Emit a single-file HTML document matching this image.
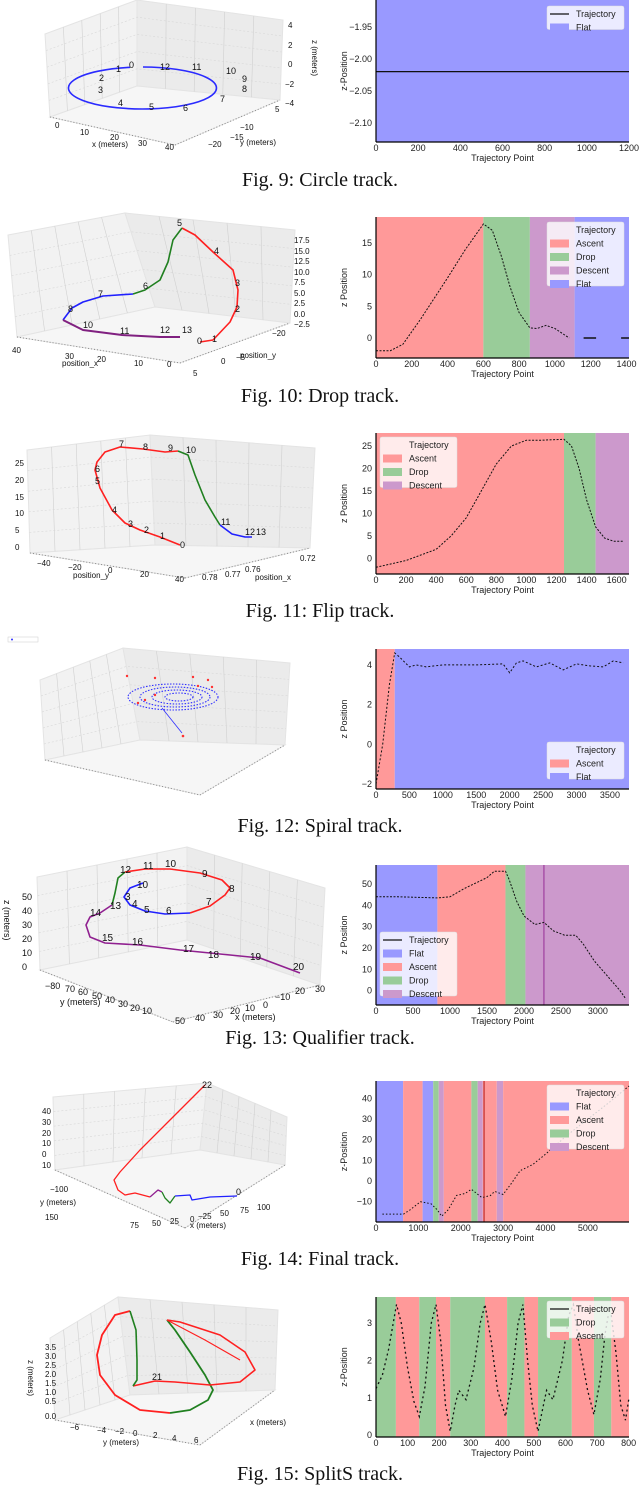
<!DOCTYPE html>
<html><head><meta charset="utf-8"><style>
html,body{margin:0;padding:0;background:#fff;}
svg{display:block;font-family:"Liberation Sans",sans-serif;}
.cap{font-family:"Liberation Serif",serif;font-size:20px;fill:#111;}
.tk{font-size:9px;fill:#222;}
.sm{font-size:8px;fill:#333;}
</style></head><body>
<svg id="pg" width="640" height="1487" viewBox="0 0 640 1487">
<g id="left"></g>
<g id="right"></g>
<g>
<text class="cap" x="320" y="186" text-anchor="middle">Fig. 9: Circle track.</text>
<text class="cap" x="320" y="402" text-anchor="middle">Fig. 10: Drop track.</text>
<text class="cap" x="320" y="617" text-anchor="middle">Fig. 11: Flip track.</text>
<text class="cap" x="320" y="832" text-anchor="middle">Fig. 12: Spiral track.</text>
<text class="cap" x="320" y="1044" text-anchor="middle">Fig. 13: Qualifier track.</text>
<text class="cap" x="320" y="1265" text-anchor="middle">Fig. 14: Final track.</text>
<text class="cap" x="320" y="1480" text-anchor="middle">Fig. 15: SplitS track.</text>
</g>
</svg>
<script>
// ---------- chart data ----------
const fig9_xTicks=[0,200,400,600,800,1000,1200];
const fig9_yTicks=[-1.95,-2.00,-2.05,-2.10];
const fig9_regStart=[0];const fig9_regEnd=[1200];const fig9_regKind=["Flat"];
const fig9_zX=[0,1200];const fig9_zY=[-2.02,-2.02];

const fig10_xTicks=[0,200,400,600,800,1000,1200,1400];
const fig10_yTicks=[0,5,10,15];
const fig10_regStart=[0,600,860,1110];const fig10_regEnd=[600,860,1110,1414];
const fig10_regKind=["Ascent","Drop","Descent","Flat"];
const fig10_zX=[0,80,150,250,400,500,600,650,700,750,800,860,900,950,1000,1080];
const fig10_zY=[-2,-2,-1,3,9.5,14,18,17,13,8,4,1.6,1.5,2,1.5,0];
const fig10_z2X=[1160,1230];const fig10_z2Y=[0,0];
const fig10_z3X=[1370,1414];const fig10_z3Y=[0,0];

const fig11_xTicks=[0,200,400,600,800,1000,1200,1400,1600];
const fig11_yTicks=[0,5,10,15,20,25];
const fig11_regStart=[0,1250,1460];const fig11_regEnd=[1250,1460,1682];
const fig11_regKind=["Ascent","Drop","Descent"];
const fig11_zX=[0,200,400,500,600,700,800,900,1000,1100,1250,1300,1350,1400,1460,1520,1580,1650];
const fig11_zY=[-2,-0.5,2,5,9,15,21,25,26.3,26.3,26.5,25,20,13,7,4.5,3.8,3.8];

const fig12_xTicks=[0,500,1000,1500,2000,2500,3000,3500];
const fig12_yTicks=[-2,0,2,4];
const fig12_regStart=[0,280];const fig12_regEnd=[280,3785];
const fig12_regKind=["Ascent","Flat"];
const fig12_zX=[0,100,200,280,350,500,600,750,1000,1500,1900,2000,2100,2200,2400,2600,2800,3000,3200,3400,3550,3700];
const fig12_zY=[-2,0,3,4.6,4.4,3.9,4.0,3.9,4,4,4.05,3.6,4.1,4.2,3.9,4.1,3.75,4.05,3.95,3.9,4.2,4.1];

const fig13_xTicks=[0,500,1000,1500,2000,2500,3000];
const fig13_yTicks=[0,10,20,30,40,50];
const fig13_regStart=[0,830,1750,2020];const fig13_regEnd=[830,1750,2020,3420];
const fig13_regKind=["Flat","Ascent","Drop","Descent"];
const fig13_zX=[0,300,830,1000,1200,1500,1600,1750,1800,1900,2000,2150,2270,2400,2550,2700,2800,2950,3100,3300,3380];
const fig13_zY=[44,44,43.5,44,48,53,56,56,52,42,35,31,32,28,26,26,22,14,8,0,-4];

const fig14_xTicks=[0,1000,2000,3000,4000,5000];
const fig14_yTicks=[-10,0,10,20,30,40];
const fig14_regStart=[0,640,1100,1350,1480,1600,2250,2400,2520,2850,3000];
const fig14_regEnd=[640,1100,1350,1480,1600,2250,2400,2520,2850,3000,5970];
const fig14_regKind=["Flat","Ascent","Flat","Drop","Descent","Ascent","Drop","Descent","Ascent","Descent","Ascent"];
const fig14_zX=[150,500,650,800,1050,1300,1450,1550,1700,1900,2100,2250,2500,2700,2800,3000,3200,3400,3700,4000,4500,5000,5500,5970];
const fig14_zY=[-16,-16,-16,-14,-10,-11,-14,-17,-14,-7,-6,-4,-8,-7,-5,-6.5,-1,5,8,13,22,30,38,46];

const fig15_xTicks=[0,100,200,300,400,500,600,700,800];
const fig15_yTicks=[0,1,2,3];
const fig15_regStart=[0,63,137,190,235,345,415,470,513,620,690,745];
const fig15_regEnd=[63,137,190,235,345,415,470,513,620,690,745,801];
const fig15_regKind=["Drop","Ascent","Drop","Ascent","Drop","Ascent","Drop","Ascent","Drop","Ascent","Drop","Ascent"];
const fig15_zX=[0,20,40,65,80,100,120,137,155,175,190,205,220,235,250,262,285,310,330,345,365,385,410,430,450,465,480,495,513,530,540,560,590,610,625,640,670,690,710,725,735,745,760,775,790,801];
const fig15_zY=[1.25,1.6,2.3,3.5,3.0,1.8,0.9,0.5,1.3,3.0,3.5,2.5,0.8,0.1,0.8,1.2,0.95,1.8,3.0,3.5,2.5,1.2,0.5,1.5,3.0,3.5,2.0,0.8,0.1,0.8,1.2,0.95,2.0,3.2,3.5,2.6,1.2,0.55,1.5,2.7,3.2,3.2,2.2,0.8,0.4,1.0];

const COL={Ascent:"#ff9999",Drop:"#99cc99",Descent:"#cc99cc",Flat:"#9999ff"};
const NS="http://www.w3.org/2000/svg";
function mk(parent,tag,attrs,text){const e=document.createElementNS(NS,tag);for(const k in attrs)e.setAttribute(k,attrs[k]);if(text!==undefined)e.textContent=text;parent.appendChild(e);return e;}

function chart(id,box,xd,yd,xTicks,yTicks,rs,re,rk,lines,ylabel,legend,extraV,fmt){
  const R=document.getElementById('right');
  const g=mk(R,'g',{});
  
  
  const [x0,y0,x1,y1]=box;
  const sx=v=>x0+(v-xd[0])/(xd[1]-xd[0])*(x1-x0);
  const sy=v=>y1-(v-yd[0])/(yd[1]-yd[0])*(y1-y0);
  for(let i=0;i<rs.length;i++){
    const r=mk(g,'rect',{x:sx(rs[i]),y:y0,width:sx(re[i])-sx(rs[i]),height:y1-y0,fill:COL[rk[i]]});
    
    
  }
  if(extraV){for(const v of extraV){const l=mk(g,'line',{x1:sx(v.x),x2:sx(v.x),y1:y0,y2:y1,stroke:v.c,'stroke-width':1.2});
    
    }}
  for(const ln of lines){
    const pts=ln.x.map((v,i)=>sx(v).toFixed(1)+','+sy(ln.y[i]).toFixed(1)).join(' ');
    const p=mk(g,'polyline',{points:pts,fill:'none',stroke:'#111','stroke-width':ln.w||1,'stroke-dasharray':ln.d||'none'});
    
    
  }
  mk(g,'line',{x1:x0,x2:x0,y1:y0,y2:y1,stroke:'#000','stroke-width':1.2});
  mk(g,'line',{x1:x0,x2:x1,y1:y1,y2:y1,stroke:'#000','stroke-width':1.2});
  for(const t of xTicks){const tx=mk(g,'text',{x:sx(t),y:y1+9,'text-anchor':'middle',class:'tk'},String(t));
    
    }
  for(const t of yTicks){const tx=mk(g,'text',{x:x0-4,y:sy(t)+3,'text-anchor':'end',class:'tk'},fmt?fmt(t):String(t).replace('-','\u2212'));
    
    }
  const xl=mk(g,'text',{x:(x0+x1)/2,y:y1+19,'text-anchor':'middle',class:'tk'},'Trajectory Point');
  
  
  const yl=mk(g,'text',{x:0,y:0,'text-anchor':'middle',class:'tk',transform:`translate(${x0-29},${(y0+y1)/2}) rotate(-90)`},ylabel);
  
  
  const [lx,ly,items,solid]=legend;
  const lg=mk(g,'g',{});
  
  
  const h=8+items.length*13.5+2;
  mk(lg,'rect',{x:lx,y:ly,width:77,height:h,fill:'#fff','fill-opacity':0.8,stroke:'#ddd','stroke-width':0.5,rx:2});
  const e0=mk(lg,'g',{});
  
  
  if(solid)mk(e0,'line',{x1:lx+3,x2:lx+22,y1:ly+8,y2:ly+8,stroke:'#111','stroke-width':1.2});
  mk(e0,'text',{x:lx+29,y:ly+11,class:'tk'},'Trajectory');
  items.forEach((k,i)=>{const yy=ly+8+(i+1)*13.5;
    const e=mk(lg,'g',{});
    
    
    mk(e,'rect',{x:lx+3,y:yy-4,width:19,height:8,fill:COL[k]});
    mk(e,'text',{x:lx+29,y:yy+3,class:'tk'},k);});
}
chart('chart-fig9',[376,0,629,142],[0,1200],[-2.13,-1.908],fig9_xTicks,fig9_yTicks,fig9_regStart,fig9_regEnd,fig9_regKind,
  [{x:fig9_zX,y:fig9_zY,w:1.2}],'z-Position',[547,6,["Flat"],true],null,t=>t.toFixed(2).replace('-','\u2212'));
chart('chart-fig10',[376,217,629,358],[0,1414],[-3.15,19.1],fig10_xTicks,fig10_yTicks,fig10_regStart,fig10_regEnd,fig10_regKind,
  [{x:fig10_zX,y:fig10_zY,d:'2,1.5'},{x:fig10_z2X,y:fig10_z2Y,w:1.5},{x:fig10_z3X,y:fig10_z3Y,w:1.5}],'z Position',[547,222,["Ascent","Drop","Descent","Flat"],false]);
chart('chart-fig11',[376,433,629,574],[0,1682],[-3.5,27.9],fig11_xTicks,fig11_yTicks,fig11_regStart,fig11_regEnd,fig11_regKind,
  [{x:fig11_zX,y:fig11_zY,d:'2,1.5'}],'z Position',[380,437,["Ascent","Drop","Descent"],false]);
chart('chart-fig12',[376,649,629,789],[0,3785],[-2.25,4.8],fig12_xTicks,fig12_yTicks,fig12_regStart,fig12_regEnd,fig12_regKind,
  [{x:fig12_zX,y:fig12_zY,d:'2,2'}],'z Position',[547,742,["Ascent","Flat"],false]);
chart('chart-fig13',[376,865,629,1005],[0,3420],[-6.7,58.9],fig13_xTicks,fig13_yTicks,fig13_regStart,fig13_regEnd,fig13_regKind,
  [{x:fig13_zX,y:fig13_zY,d:'2,1.5'}],'z Position',[380,932,["Flat","Ascent","Drop","Descent"],true],[{x:2270,c:'#a040a0'}]);
chart('chart-fig14',[376,1081,629,1222],[0,5970],[-19.8,48.4],fig14_xTicks,fig14_yTicks,fig14_regStart,fig14_regEnd,fig14_regKind,
  [{x:fig14_zX,y:fig14_zY,d:'1.5,2'}],'z-Position',[547,1085,["Flat","Ascent","Drop","Descent"],false],[{x:2550,c:'#c03030'}]);
chart('chart-fig15',[376,1297,629,1437],[0,801],[-0.05,3.7],fig15_xTicks,fig15_yTicks,fig15_regStart,fig15_regEnd,fig15_regKind,
  [{x:fig15_zX,y:fig15_zY,d:'2,3',w:1.3}],'z-Position',[547,1301,["Drop","Ascent"],true]);

// ---------- 3D plots (approximate projections) ----------
const L=document.getElementById('left');
function panes(name,tl,bk,tr,bl,bb,fr,br){
  const g=mk(L,'g',{});
  
  
  mk(g,'polygon',{points:[tl,bk,bb,bl].map(p=>p.join(',')).join(' '),fill:'#f2f2f2',stroke:'#e4e4e4'});
  mk(g,'polygon',{points:[bk,tr,br,bb].map(p=>p.join(',')).join(' '),fill:'#ebebeb',stroke:'#e4e4e4'});
  mk(g,'polygon',{points:[bl,bb,br,fr].map(p=>p.join(',')).join(' '),fill:'#f6f6f6',stroke:'#e4e4e4'});
  for(let i=1;i<5;i++){const f=i/5;
    const a=[tl[0]+(bl[0]-tl[0])*f,tl[1]+(bl[1]-tl[1])*f],b=[bk[0]+(bb[0]-bk[0])*f,bk[1]+(bb[1]-bk[1])*f],c=[tr[0]+(br[0]-tr[0])*f,tr[1]+(br[1]-tr[1])*f];
    mk(g,'polyline',{points:[a,b,c].map(p=>p.join(',')).join(' '),fill:'none',stroke:'#d8d8d8','stroke-dasharray':'2,2','stroke-width':0.6});
    const u=[tl[0]+(bk[0]-tl[0])*f,tl[1]+(bk[1]-tl[1])*f],v=[bl[0]+(bb[0]-bl[0])*f,bl[1]+(bb[1]-bl[1])*f];
    mk(g,'line',{x1:u[0],y1:u[1],x2:v[0],y2:v[1],stroke:'#d0d0d0','stroke-width':0.6});
    const p=[bk[0]+(tr[0]-bk[0])*f,bk[1]+(tr[1]-bk[1])*f],q=[bb[0]+(br[0]-bb[0])*f,bb[1]+(br[1]-bb[1])*f];
    mk(g,'line',{x1:p[0],y1:p[1],x2:q[0],y2:q[1],stroke:'#d0d0d0','stroke-width':0.6});}
  mk(g,'line',{x1:bl[0],y1:bl[1],x2:fr[0],y2:fr[1],stroke:'#888','stroke-dasharray':'1,2'});
  mk(g,'line',{x1:fr[0],y1:fr[1],x2:br[0],y2:br[1],stroke:'#888','stroke-dasharray':'1,2'});
}
function curve(name,pts,color,w){const p=mk(L,'polyline',{points:pts.map(a=>a.join(',')).join(' '),fill:'none',stroke:color,'stroke-width':w||1.6,'stroke-linejoin':'round'});
  
  }
function labels(arr,size){for(const [t,x,y,rot] of arr){const at={x:x,y:y,'font-size':size||9,fill:'#111'};if(rot)at.transform=`rotate(${rot},${x},${y})`;const e=mk(L,'text',at,t);
  
  }}

// Fig 9
panes('3d-panes-fig9',[45,34],[137,0],[283,20],[50,117],[137,86],[175,145],[280,100]);
{const e=mk(L,'path',{d:'M143,67 A74,21 0 1 1 130,67.3',fill:'none',stroke:'#2a2aff','stroke-width':1.6});
 
 }
labels([['0',129,68],['1',116,72],['2',99,81],['3',98,93],['4',118,106],['5',149,110],['6',183,111],['7',220,102],['8',242,92],['9',242,82],['10',226,74],['11',192,70],['12',160,70]]);
labels([['0',55,128],['10',80,135],['20',110,140],['30',138,146],['40',165,150],['x (meters)',92,147],['4',288,28],['2',288,48],['0',288,67],['−2',285,87],['−4',285,106],['z (meters)',312,40,90]],8);
labels([['−20',208,147],['−15',230,140],['−10',240,130],['5',275,112],['y (meters)',240,145]],8);

// Fig 10
panes('3d-panes-fig10',[8,235],[125,213],[295,230],[17,337],[155,307],[180,363],[290,323]);
curve('segment-ascent-fig10',[[200,342],[213,340],[230,322],[237,307],[238,290],[233,270],[213,252],[195,235],[182,228]],'#ff2020');
curve('segment-drop-fig10',[[182,228],[173,240],[168,262],[160,280],[145,290],[133,294]],'#208020');
curve('segment-flat-fig10',[[133,294],[103,296],[83,302],[72,308],[63,320]],'#2020ff');
curve('segment-descent-fig10',[[63,320],[83,330],[122,335],[160,337],[180,337]],'#802080',2);
labels([['5',177,226],['4',214,254],['3',235,286],['2',235,312],['1',212,342],['0',197,344],['6',143,289],['7',98,297],['8',68,312],['10',83,328],['11',120,334],['12',160,333],['13',182,333]]);
labels([['40',12,353],['30',65,359],['20',97,362],['10',134,366],['0',167,367],['position_x',62,366],['5',193,376],['0',221,364],['−5',236,360],['position_y',240,358],['−20',272,336],['17.5',294,243],['15.0',294,254],['12.5',294,264],['10.0',294,275],['7.5',294,285],['5.0',294,296],['2.5',294,306],['0.0',294,317],['−2.5',294,327]],8);

// Fig 11
panes('3d-panes-fig11',[27,450],[150,435],[315,448],[30,553],[155,545],[185,578],[310,548]);
curve('segment-ascent-fig11',[[180,545],[160,537],[140,530],[125,523],[112,510],[100,488],[95,470],[97,462],[105,452],[120,447],[143,449],[165,452],[178,451]],'#ff2020');
curve('segment-drop-fig11',[[178,451],[188,455],[195,475],[205,500],[215,517],[220,525]],'#208020');
curve('segment-flat-fig11',[[220,525],[232,534],[245,537],[252,537]],'#2020ff');
labels([['0',180,548],['1',160,539],['2',144,533],['3',128,527],['4',112,513],['5',95,484],['6',95,472],['7',119,447],['8',143,450],['9',168,451],['10',186,453],['11',221,525],['12',245,535],['13',256,535]]);
labels([['25',15,466],['20',15,483],['15',15,500],['10',15,516],['5',15,533],['0',15,550],['−40',37,566],['−20',68,570],['0',108,573],['20',140,577],['40',175,582],['position_y',73,578],['0.78',202,580],['0.77',225,577],['0.76',245,572],['0.72',300,561],['position_x',255,580]],8);

// Fig 12
panes('3d-panes-fig12',[40,680],[123,648],[290,663],[45,760],[140,740],[200,795],[285,745]);
{const g=mk(L,'g',{});
 [[45,13],[35,10],[25,7],[14,4]].forEach(([rx,ry],i)=>mk(g,'ellipse',{cx:173+i*2,cy:697,rx:rx,ry:ry,fill:'none',stroke:'#3030ff','stroke-width':1.1,'stroke-dasharray':'1.5,1.5'}));
 mk(g,'line',{x1:162,y1:708,x2:182,y2:733,stroke:'#3030ff','stroke-width':0.8});
 [[127,676],[155,678],[193,677],[208,680],[212,687],[155,695],[145,700],[138,703],[198,686]].forEach(([x,y])=>mk(g,'circle',{cx:x,cy:y,r:1.2,fill:'#ff3030'}));
 mk(g,'circle',{cx:183,cy:736,r:1.3,fill:'#ff3030'});
 mk(g,'rect',{x:8,y:637,width:30,height:5,fill:'#fff',stroke:'#ccc','stroke-width':0.5});
 mk(g,'circle',{cx:12,cy:639.5,r:1,fill:'#3030ff'});}

// Fig 13
panes('3d-panes-fig13',[37,877],[187,847],[325,888],[40,970],[187,940],[173,1022],[320,985]);
curve('segment-flat-fig13',[[143,883],[130,888],[124,897],[130,905],[145,911],[165,914],[190,913]],'#2020ff');
curve('segment-ascent-fig13',[[190,913],[210,906],[225,895],[230,888],[222,880],[200,873],[170,869],[145,869],[125,872]],'#ff2020');
curve('segment-drop-fig13',[[125,872],[118,878],[115,893],[112,905]],'#208020');
curve('segment-descent-fig13',[[112,905],[100,913],[90,917],[86,925],[90,937],[105,943],[140,945],[180,950],[230,955],[260,958],[300,973]],'#902090');
labels([['12',120,873],['11',143,869],['10',165,867],['9',202,877],['8',229,892],['7',206,905],['6',166,914],['5',144,913],['4',132,907],['3',125,900],['10',137,888],['13',110,909],['14',90,916],['15',102,941],['16',132,945],['17',183,952],['18',208,958],['19',250,960],['20',293,970]],10);
labels([['50',22,900],['40',22,914],['30',22,928],['20',22,942],['10',22,956],['0',22,970],['z (meters)',4,900,90],['−80',45,989],['70',65,992],['60',78,995],['50',92,999],['40',105,1003],['30',118,1007],['20',130,1011],['10',142,1014],['50',175,1024],['40',195,1021],['30',213,1018],['20',230,1014],['10',245,1011],['0',263,1008],['−10',275,1000],['20',295,994],['30',315,992],['y (meters)',60,1005],['x (meters)',235,1020]],9);

// Fig 14
panes('3d-panes-fig14',[53,1097],[207,1083],[287,1117],[55,1170],[200,1150],[185,1228],[285,1165]);
curve('segment-ascent-fig14',[[205,1085],[170,1120],[140,1150],[120,1172],[114,1180],[118,1190],[125,1195],[135,1193],[150,1197]],'#ff2020',1.3);
curve('segment-descent-fig14',[[150,1197],[158,1190],[162,1192]],'#902090',1.3);
curve('segment-drop-fig14',[[162,1192],[165,1198],[170,1203],[175,1196]],'#208020',1.3);
curve('segment-flat-fig14',[[175,1196],[190,1195],[192,1200],[210,1197],[237,1196]],'#2020ff',1.3);
labels([['22',202,1088],['0',236,1195]]);
labels([['40',42,1114],['30',42,1125],['20',42,1136],['10',42,1146],['0',42,1157],['10',42,1168],['−100',50,1192],['150',45,1220],['75',130,1228],['50',152,1226],['25',170,1224],['0',190,1222],['−25',198,1219],['50',220,1216],['75',240,1213],['100',257,1210],['x (meters)',190,1228],['y (meters)',40,1205]],8);

// Fig 15
panes('3d-panes-fig15',[50,1338],[118,1297],[278,1310],[55,1420],[130,1395],[200,1445],[275,1390]);
curve('segment-ascent-fig15-a',[[130,1311],[115,1315],[102,1335],[97,1355],[100,1375],[115,1395],[140,1410],[170,1413]],'#ff2020',1.8);
curve('segment-drop-fig15-a',[[170,1413],[190,1410],[208,1400],[213,1390],[205,1375],[190,1352],[175,1330],[167,1320]],'#208020',1.8);
curve('segment-ascent-fig15-b',[[167,1320],[180,1322],[220,1335],[245,1352],[255,1370],[240,1382],[210,1385],[175,1382],[155,1381],[133,1386]],'#ff2020',1.6);
curve('segment-ascent-fig15-c',[[167,1320],[205,1340],[240,1360]],'#ff2020',1.2);
curve('segment-drop-fig15-b',[[133,1386],[137,1380],[137,1360],[136,1330],[130,1311]],'#208020',1.6);
labels([['21',152,1380]]);
labels([['3.5',45,1350],['3.0',45,1359],['2.5',45,1368],['2.0',45,1377],['1.5',45,1386],['1.0',45,1395],['0.5',45,1404],['0.0',45,1419],['−6',70,1430],['−4',97,1433],['−2',115,1434],['0',133,1436],['2',153,1438],['4',172,1441],['6',194,1443],['y (meters)',103,1445],['z (meters)',28,1360,90],['x (meters)',250,1425]],8);
</script>
</body></html>
